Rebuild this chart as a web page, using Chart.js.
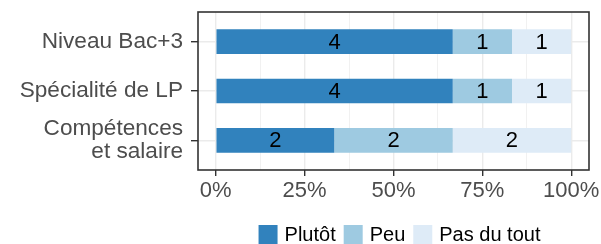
<!DOCTYPE html>
<html><head><meta charset="utf-8">
<script src="https://cdn.jsdelivr.net/npm/chart.js@4"></script>
<style>html,body{margin:0;padding:0;background:#fff}#wrap{width:601px;height:244px;position:relative}</style>
</head><body><div id="wrap"><canvas id="c"></canvas></div>
<script>
const categories = [['Niveau Bac+3'], ['Spécialité de LP'], ['Compétences', 'et salaire']];
const seriesNames = ['Plutôt', 'Peu', 'Pas du tout'];
const plutot = [4, 4, 2];
const peu = [1, 1, 2];
const pasDuTout = [1, 1, 2];
const xTickValues = [0, 25, 50, 75, 100];
const xTickLabels = ['0%', '25%', '50%', '75%', '100%'];
const colors = ['#3182bd', '#9ecae1', '#deebf7'];

const FONT = "'Liberation Sans', Arial, Helvetica, sans-serif";
const counts = [plutot, peu, pasDuTout];
const totals = categories.map((_, i) => counts.reduce((s, arr) => s + arr[i], 0));

const datasets = counts.map((arr, k) => ({
  label: seriesNames[k],
  counts: arr,
  data: arr.map((v, i) => v / totals[i] * 100),
  backgroundColor: colors[k],
  borderWidth: 0,
  categoryPercentage: 0.5,
  barPercentage: 1.0
}));

const minorMajor = [];
for (let i = 0; i < xTickValues.length; i++) {
  minorMajor.push(xTickValues[i]);
  if (i < xTickValues.length - 1) minorMajor.push((xTickValues[i] + xTickValues[i + 1]) / 2);
}

const valueLabels = {
  id: 'valueLabels',
  afterDatasetsDraw(chart) {
    const ctx = chart.ctx;
    ctx.save();
    ctx.font = '22px ' + FONT;
    ctx.fillStyle = '#000';
    ctx.textAlign = 'center';
    ctx.textBaseline = 'middle';
    chart.data.datasets.forEach((ds, k) => {
      const meta = chart.getDatasetMeta(k);
      meta.data.forEach((el, i) => {
        const p = el.getCenterPoint();
        ctx.fillText(String(ds.counts[i]), p.x, p.y + 1);
      });
    });
    ctx.restore();
  }
};
const panelBorder = {
  id: 'panelBorder',
  afterDatasetsDraw(chart) {
    const a = chart.chartArea, ctx = chart.ctx;
    ctx.save();
    ctx.strokeStyle = '#333333';
    ctx.lineWidth = 1.6;
    ctx.strokeRect(a.left, a.top, a.right - a.left, a.bottom - a.top);
    ctx.restore();
  }
};
const customLegend = {
  id: 'customLegend',
  afterDraw(chart) {
    const ctx = chart.ctx;
    ctx.save();
    ctx.font = '20px ' + FONT;
    const box = 19, gapText = 7, gapItem = 8;
    const items = chart.data.datasets.map(ds => ({ label: ds.label, color: ds.backgroundColor, w: ctx.measureText(ds.label).width }));
    const total = items.reduce((s, it) => s + box + gapText + it.w, 0) + gapItem * (items.length - 1);
    let x = 399.5 - total / 2;
    const top = 225;
    ctx.textBaseline = 'middle';
    ctx.textAlign = 'left';
    items.forEach(it => {
      ctx.fillStyle = it.color;
      ctx.fillRect(x, top, box, box);
      x += box + gapText;
      ctx.fillStyle = '#000';
      ctx.fillText(it.label, x, top + box / 2 + 1);
      x += it.w + gapItem;
    });
    ctx.restore();
  }
};

new Chart(document.getElementById('c'), {
  type: 'bar',
  data: { labels: categories, datasets },
  plugins: [valueLabels, panelBorder, customLegend],
  options: {
    indexAxis: 'y',
    responsive: true,
    maintainAspectRatio: false,
    animation: false,
    layout: { padding: { top: 12, right: 12, left: 0, bottom: 37.6 } },
    plugins: {
      tooltip: { enabled: false },
      legend: { display: false }
    },
    scales: {
      x: {
        type: 'linear', stacked: true, min: -5, max: 105,
        afterBuildTicks: s => { s.ticks = minorMajor.map(v => ({ value: v })); },
        afterFit: s => { s.paddingLeft = 0; s.paddingRight = 0; },
        ticks: {
          autoSkip: false, maxRotation: 0, padding: 2,
          color: '#4d4d4d', font: { family: FONT, size: 22 },
          callback: v => { const j = xTickValues.indexOf(v); return j >= 0 ? xTickLabels[j] : ''; }
        },
        grid: {
          color: '#ebebeb',
          lineWidth: c => (c.tick && xTickValues.includes(c.tick.value)) ? 1.4 : 0.7,
          tickColor: c => (c.tick && xTickValues.includes(c.tick.value)) ? '#333333' : 'rgba(0,0,0,0)',
          tickLength: 6, tickWidth: 1.4
        },
        border: { display: false }
      },
      y: {
        type: 'category', stacked: true, offset: true,
        afterBuildTicks: s => { s._startValue = -0.6; s._valueRange = 3.2; },
        afterFit: s => { s.width = 198; s.paddingTop = 0; s.paddingBottom = 0; },
        ticks: {
          autoSkip: false, padding: 8,
          color: '#4d4d4d', font: { family: FONT, size: 22.6, lineHeight: 1.03 }
        },
        grid: {
          color: '#ebebeb', lineWidth: 1.4, offset: false,
          tickColor: '#333333', tickLength: 7, tickWidth: 1.4
        },
        border: { display: false }
      }
    }
  }
});
</script></body></html>
